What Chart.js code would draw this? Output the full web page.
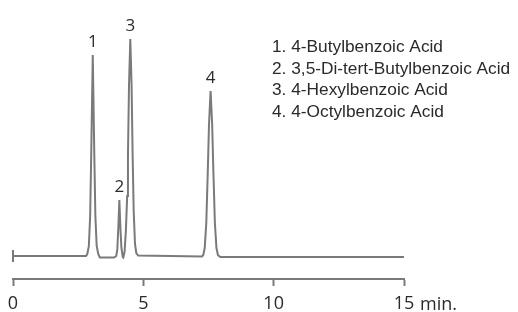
<!DOCTYPE html>
<html>
<head>
<meta charset="utf-8">
<script src="https://cdn.jsdelivr.net/npm/chart.js@4"></script>
<style>
  html, body { margin: 0; padding: 0; background: #fff; }
  canvas { display: block; }
</style>
</head>
<body>
<canvas id="chart" width="518" height="312"></canvas>
<script>
// Chromatogram trace (retention time in min, detector signal in arbitrary units)
const retentionTime = [
  0, 2.80, 2.85, 2.91, 2.96, 3.00, 3.06, 3.12, 3.16, 3.21, 3.27, 3.33,
  3.80, 3.88, 3.96, 4.00, 4.04, 4.08, 4.12, 4.16, 4.21, 4.23,
  4.28, 4.33, 4.38, 4.41, 4.45, 4.50, 4.55, 4.59, 4.63, 4.68, 4.73, 4.80,
  7.25, 7.30, 7.355, 7.415, 7.47, 7.52, 7.58, 7.64, 7.69, 7.745, 7.805, 7.86, 7.95,
  15
];
const signal = [
  0, 0, 2, 10, 40, 100, 201, 100, 40, 10, 2, -1.5,
  -1.5, -1.5, 0, 6, 28, 56, 28, 8, -1, -1.5,
  4, 25, 60, 100, 170, 217, 170, 100, 45, 12, 3, 0.5,
  -0.5, 1, 8, 33, 82, 132, 165, 132, 82, 33, 8, 1, -1,
  -1
];

// Peak labels
const peakNumbers = ['1', '2', '3', '4'];
const peakTimes = [3.06, 4.08, 4.50, 7.58];
const peakHeights = [201, 56, 217, 165];

const compounds = [
  '4-Butylbenzoic Acid',
  '3,5-Di-tert-Butylbenzoic Acid',
  '4-Hexylbenzoic Acid',
  '4-Octylbenzoic Acid'
];

const xTicks = [0, 5, 10, 15];
const xUnit = 'min.';

const trace = retentionTime.map((t, i) => ({ x: t, y: signal[i] }));
const startMark = [{ x: 0, y: 6 }, { x: 0, y: -6 }];

const lineColor = '#7a7a7a';
const textColor = '#2a2a2a';

// Draw peak numbers, unit and compound list
const annotations = {
  id: 'annotations',
  afterDraw(chart) {
    const ctx = chart.ctx;
    const xs = chart.scales.x;
    const ys = chart.scales.y;
    ctx.save();
    ctx.fillStyle = textColor;
    ctx.textBaseline = 'alphabetic';

    ctx.font = '17px "Open Sans"';
    ctx.textAlign = 'center';
    peakNumbers.forEach((n, i) => {
      ctx.fillText(n, xs.getPixelForValue(peakTimes[i]), ys.getPixelForValue(peakHeights[i]) - 8);
    });

    ctx.font = '18px "Open Sans"';
    ctx.textAlign = 'left';
    ctx.fillText(xUnit, xs.getPixelForValue(xTicks[xTicks.length - 1]) + 16, 310);

    ctx.font = '17.3px "Liberation Sans"';
    compounds.forEach((c, i) => {
      ctx.fillText(`${i + 1}. ${c}`, 272, 52 + i * 21.5);
    });
    ctx.restore();
  }
};

new Chart(document.getElementById('chart'), {
  type: 'line',
  data: {
    datasets: [
      {
        data: trace,
        borderColor: lineColor,
        borderWidth: 2,
        pointRadius: 0,
        tension: 0,
        clip: false
      },
      {
        data: startMark,
        borderColor: lineColor,
        borderWidth: 2,
        pointRadius: 0,
        clip: false
      }
    ]
  },
  options: {
    responsive: false,
    animation: false,
    devicePixelRatio: 1,
    layout: { padding: { left: 13, right: 114, top: 0, bottom: 0 } },
    plugins: {
      legend: { display: false },
      tooltip: { enabled: false }
    },
    scales: {
      x: {
        type: 'linear',
        min: xTicks[0],
        max: xTicks[xTicks.length - 1],
        afterFit(scale) { scale.height = 33; },
        afterBuildTicks(scale) { scale.ticks = xTicks.map(v => ({ value: v })); },
        ticks: {
          font: { family: 'Open Sans', size: 18 },
          color: textColor,
          padding: 7,
          maxRotation: 0,
          autoSkip: false
        },
        grid: {
          drawOnChartArea: false,
          drawTicks: true,
          tickLength: 7,
          tickWidth: 2,
          tickColor: lineColor
        },
        border: { display: true, color: lineColor, width: 2 }
      },
      y: {
        display: false,
        min: -23,
        max: 256
      }
    }
  },
  plugins: [annotations]
});
</script>
</body>
</html>
